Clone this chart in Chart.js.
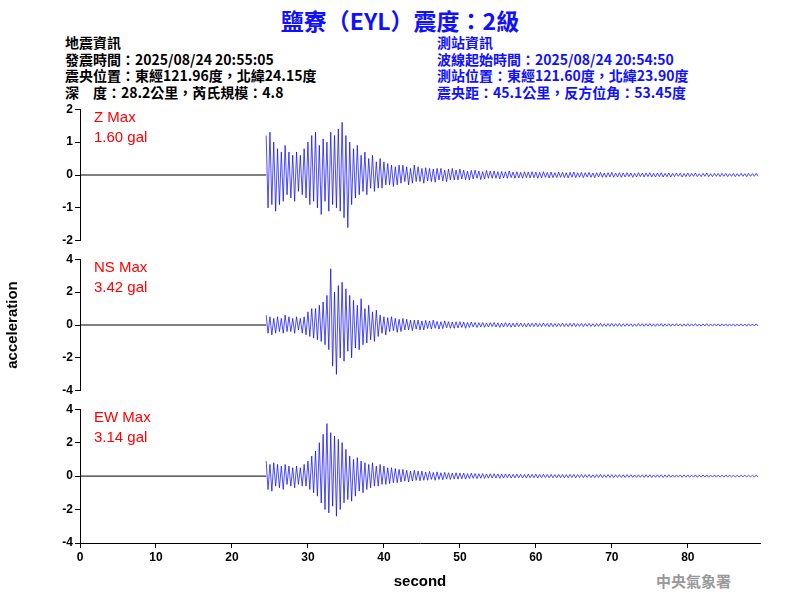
<!DOCTYPE html>
<html><head><meta charset="utf-8">
<script src="https://cdn.jsdelivr.net/npm/chart.js@4"></script>
<style>
body{margin:0;width:800px;height:600px;background:#fff;position:relative;overflow:hidden;font-family:"Noto Sans CJK TC",sans-serif}
canvas{position:absolute;left:0}
.t{position:absolute;white-space:nowrap}
.h{font-size:14px;font-weight:bold;line-height:16.5px}
.red{color:#f00;font-family:Arial,"Liberation Sans";font-size:15px;line-height:20px;position:absolute;left:94px}
</style></head><body>
<div class="t" style="left:0;width:800px;text-align:center;top:3px;font-size:23px;font-weight:bold;color:#1010ff">鹽寮（EYL）震度：2級</div>
<div class="t h" style="left:65px;top:34px;color:#000">地震資訊<br>發震時間：2025/08/24 20:55:05<br>震央位置：東經121.96度，北緯24.15度<br>深　度：28.2公里，芮氏規模：4.8</div>
<div class="t h" style="left:437px;top:34px;color:#1010ff">測站資訊<br>波線起始時間：2025/08/24 20:54:50<br>測站位置：東經121.60度，北緯23.90度<br>震央距：45.1公里，反方位角：53.45度</div>
<div class="t" style="left:656px;top:570px;font-size:15px;font-weight:bold;color:#999">中央氣象署</div>
<canvas id="c1" width="800" height="150" style="top:100px"></canvas>
<canvas id="c2" width="800" height="150" style="top:250px"></canvas>
<canvas id="c3" width="800" height="200" style="top:400px"></canvas>
<div class="red" style="top:107px">Z Max<br>1.60 gal</div>
<div class="red" style="top:257px">NS Max<br>3.42 gal</div>
<div class="red" style="top:407px">EW Max<br>3.14 gal</div>
<script>
const startTime = 24.5, dt = 0.25;
const xTicks = [0,10,20,30,40,50,60,70,80];
const zValues = [
1.2,-1.0,1.3,-0.9,1.0,-1.1,0.8,-0.9,0.7,-0.8,0.9,-0.6,0.7,-0.7,0.6,-0.8,0.7,-0.5,0.6,-0.6,
0.8,-0.7,1.0,-0.9,1.2,-0.8,1.3,-1.0,0.9,-1.2,1.1,-0.8,1.0,-1.1,1.3,-0.9,1.2,-1.0,1.4,-1.1,
1.6,-1.3,1.2,-1.6,1.0,-0.9,0.8,-0.7,0.9,-0.6,0.6,-0.5,0.7,-0.6,0.5,-0.4,0.6,-0.5,0.4,-0.4,
0.5,-0.4,0.4,-0.3,0.35,-0.3,0.3,-0.35,0.25,-0.3,0.3,-0.25,0.3,-0.2,0.25,-0.3,0.2,-0.25,0.3,-0.2,
0.25,-0.2,0.2,-0.25,0.22,-0.18,0.2,-0.2,0.18,-0.22,0.2,-0.15,0.2,-0.18,0.15,-0.2,0.18,-0.15,0.2,-0.15,
0.15,-0.15,0.18,-0.12,0.15,-0.14,0.12,-0.15,0.14,-0.12,0.15,-0.1,0.12,-0.14,0.1,-0.12,0.14,-0.1,0.12,-0.1,
0.12,-0.1,0.1,-0.12,0.11,-0.09,0.1,-0.1,0.12,-0.08,0.09,-0.1,0.1,-0.09,0.08,-0.1,0.1,-0.08,0.09,-0.09,
0.1,-0.08,0.09,-0.1,0.08,-0.09,0.1,-0.07,0.08,-0.09,0.09,-0.08,0.07,-0.08,0.09,-0.07,0.08,-0.08,0.07,-0.09,
0.08,-0.07,0.09,-0.08,0.07,-0.07,0.08,-0.08,0.07,-0.06,0.08,-0.07,0.06,-0.08,0.07,-0.06,0.08,-0.07,0.06,-0.07,
0.07,-0.06,0.08,-0.07,0.06,-0.06,0.07,-0.07,0.06,-0.06,0.07,-0.05,0.06,-0.07,0.05,-0.06,0.07,-0.05,0.06,-0.06,
0.06,-0.05,0.07,-0.06,0.05,-0.06,0.06,-0.05,0.07,-0.06,0.05,-0.05,0.06,-0.06,0.05,-0.05,0.06,-0.04,0.05,-0.06,
0.05,-0.05,0.06,-0.05,0.05,-0.04,0.06,-0.05,0.04,-0.05,0.05,-0.04,0.06,-0.05,0.04,-0.05,0.05,-0.04,0.05,-0.05,
0.05,-0.04,0.05,-0.05,0.04,-0.04,0.05,-0.05,0.04,-0.04,0.05,-0.04,0.04,-0.05,0.05,-0.04,0.04,-0.04,0.05,-0.04];
const nsValues = [
0.6,-0.5,0.5,-0.6,0.4,-0.5,0.5,-0.4,0.4,-0.5,0.6,-0.4,0.5,-0.4,0.4,-0.5,0.5,-0.3,0.4,-0.5,
0.5,-0.6,0.8,-0.7,1.0,-0.8,1.0,-0.9,1.2,-1.0,1.4,-1.2,1.8,-1.5,3.42,-2.5,2.0,-3.0,2.4,-2.0,
2.6,-2.2,2.2,-1.6,1.8,-2.0,1.5,-1.4,1.2,-1.5,1.6,-1.2,1.0,-1.1,1.2,-0.9,0.8,-1.0,0.9,-0.7,
0.6,-0.5,0.5,-0.6,0.45,-0.4,0.5,-0.35,0.4,-0.45,0.35,-0.4,0.4,-0.3,0.35,-0.3,0.3,-0.35,0.3,-0.25,
0.3,-0.3,0.25,-0.3,0.28,-0.22,0.25,-0.25,0.3,-0.2,0.22,-0.25,0.2,-0.22,0.25,-0.18,0.2,-0.2,0.18,-0.2,
0.2,-0.18,0.2,-0.15,0.18,-0.2,0.15,-0.15,0.18,-0.12,0.15,-0.15,0.14,-0.12,0.15,-0.14,0.12,-0.12,0.14,-0.1,
0.15,-0.12,0.13,-0.14,0.12,-0.12,0.14,-0.1,0.12,-0.13,0.11,-0.12,0.13,-0.1,0.12,-0.11,0.1,-0.12,0.12,-0.1,
0.11,-0.1,0.12,-0.11,0.1,-0.1,0.12,-0.09,0.1,-0.11,0.11,-0.1,0.09,-0.1,0.1,-0.09,0.11,-0.1,0.09,-0.1,
0.1,-0.09,0.11,-0.1,0.09,-0.09,0.1,-0.1,0.09,-0.08,0.1,-0.09,0.08,-0.1,0.09,-0.08,0.1,-0.09,0.08,-0.09,
0.09,-0.08,0.1,-0.09,0.08,-0.08,0.09,-0.09,0.08,-0.08,0.09,-0.07,0.08,-0.09,0.07,-0.08,0.09,-0.07,0.08,-0.08,
0.08,-0.07,0.09,-0.08,0.07,-0.08,0.08,-0.07,0.09,-0.08,0.07,-0.07,0.08,-0.08,0.07,-0.07,0.08,-0.06,0.07,-0.08,
0.07,-0.07,0.08,-0.07,0.07,-0.06,0.08,-0.07,0.06,-0.07,0.07,-0.06,0.08,-0.07,0.06,-0.07,0.07,-0.06,0.07,-0.07,
0.07,-0.06,0.07,-0.07,0.06,-0.06,0.07,-0.07,0.06,-0.06,0.07,-0.06,0.06,-0.07,0.07,-0.06,0.06,-0.06,0.07,-0.06];
const ewValues = [
0.9,-0.8,0.7,-0.9,0.8,-0.6,0.7,-0.7,0.6,-0.8,0.7,-0.5,0.6,-0.6,0.5,-0.7,0.6,-0.5,0.5,-0.6,
0.7,-0.6,0.9,-0.8,1.2,-1.0,1.5,-1.2,2.0,-1.6,2.5,-2.0,3.14,-2.2,2.6,-1.8,2.4,-2.4,2.2,-2.0,
2.0,-1.6,1.6,-1.4,1.2,-1.5,1.0,-1.2,1.1,-0.9,0.9,-1.0,0.8,-0.8,0.7,-0.7,0.8,-0.6,0.6,-0.6,
0.7,-0.5,0.6,-0.5,0.5,-0.45,0.5,-0.4,0.45,-0.4,0.4,-0.35,0.4,-0.3,0.35,-0.35,0.3,-0.3,0.35,-0.25,
0.3,-0.28,0.3,-0.25,0.25,-0.25,0.28,-0.2,0.22,-0.25,0.25,-0.2,0.2,-0.22,0.22,-0.18,0.2,-0.2,0.18,-0.18,
0.2,-0.18,0.18,-0.16,0.18,-0.18,0.15,-0.15,0.17,-0.13,0.15,-0.15,0.14,-0.13,0.15,-0.14,0.13,-0.12,0.14,-0.12,
0.14,-0.12,0.13,-0.13,0.12,-0.12,0.13,-0.1,0.12,-0.12,0.11,-0.11,0.12,-0.1,0.11,-0.11,0.1,-0.11,0.12,-0.1,
0.11,-0.1,0.11,-0.11,0.1,-0.1,0.11,-0.09,0.1,-0.1,0.1,-0.1,0.09,-0.1,0.1,-0.09,0.1,-0.1,0.09,-0.09,
0.1,-0.09,0.1,-0.1,0.09,-0.09,0.1,-0.09,0.09,-0.08,0.1,-0.09,0.08,-0.09,0.09,-0.08,0.1,-0.09,0.08,-0.08,
0.09,-0.08,0.09,-0.09,0.08,-0.08,0.09,-0.08,0.08,-0.08,0.09,-0.07,0.08,-0.08,0.07,-0.08,0.08,-0.07,0.08,-0.08,
0.08,-0.07,0.08,-0.08,0.07,-0.07,0.08,-0.07,0.08,-0.08,0.07,-0.07,0.08,-0.07,0.07,-0.07,0.07,-0.06,0.07,-0.07,
0.07,-0.06,0.07,-0.07,0.06,-0.06,0.07,-0.07,0.06,-0.06,0.07,-0.06,0.07,-0.07,0.06,-0.06,0.07,-0.06,0.06,-0.06,
0.06,-0.06,0.07,-0.06,0.06,-0.05,0.06,-0.06,0.05,-0.06,0.06,-0.05,0.06,-0.06,0.06,-0.05,0.05,-0.06,0.06,-0.05];

function toPts(vals){ return vals.map((v,i)=>({x:startTime+i*dt,y:v})); }
const tickFont={family:'Arial',size:12,weight:'bold'};
function makeChart(id,vals,range,step,showX,padTop){
  new Chart(document.getElementById(id),{
    type:'line',
    data:{datasets:[
      {data:[{x:0,y:0},{x:startTime,y:0}],borderColor:'#000',borderWidth:1,pointRadius:0},
      {data:toPts(vals),borderColor:'#0000ff',borderWidth:0.7,pointRadius:0,tension:0}
    ]},
    options:{responsive:false,animation:false,events:[],
      layout:{padding:{top:padTop,bottom:showX?5:7,right:40,left:0}},
      plugins:{legend:{display:false},tooltip:{enabled:false}},
      scales:{
        x:{type:'linear',min:0,max:89.5,display:showX,
          afterBuildTicks:s=>{s.ticks=xTicks.map(v=>({value:v}));},
          afterFit:s=>{s.height=showX?52:0;},
          grid:{drawOnChartArea:false,color:'#000',tickLength:5},border:{color:'#000'},
          ticks:{color:'#000',font:tickFont,maxRotation:0,padding:2},
          title:{display:true,text:'second',color:'#000',font:{family:'Arial',size:15,weight:'bold'},padding:{top:0}}},
        y:{min:-range,max:range,afterFit:s=>{s.width=80;},
          grid:{drawOnChartArea:false,color:'#000',tickLength:5},border:{color:'#000'},
          ticks:{stepSize:step,color:'#000',font:tickFont,padding:2},
          title:{display:id==='c2',text:'acceleration',color:'#000',font:{family:'Arial',size:15,weight:'bold'},padding:{bottom:18}}}
      }}
  });
}
makeChart('c1',zValues,2,1,false,7);
makeChart('c2',nsValues,4,2,false,7);
makeChart('c3',ewValues,4,2,true,8);
</script></body></html>
